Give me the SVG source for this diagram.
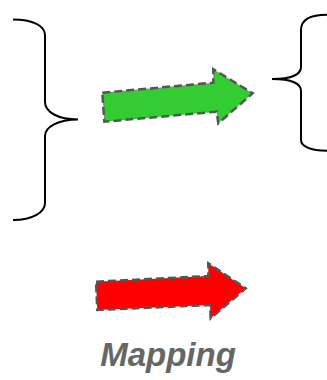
<svg xmlns="http://www.w3.org/2000/svg" width="327" height="380" viewBox="0 0 327 380">
<style>
.brace{fill:none;stroke:#000;stroke-width:2}
.arrow{stroke:#555;stroke-width:2.5;stroke-dasharray:8 4;stroke-linejoin:miter}
.label{font-family:"Liberation Sans",Arial,sans-serif;font-weight:bold;font-style:italic;font-size:33px;fill:#666}
</style>
<rect width="327" height="380" fill="#fff"/>
<g id="left-brace"><path class="brace" d="M13,19.5 C33,19.5 45,26 45,35 L45,102 C45,112 58,119.5 78,119.5 C58,119.5 45,127 45,136 L45,203 C45,212 33,220 13,220"/></g>
<g id="right-brace"><path class="brace" d="M327,14.7 C310,14.7 301,20 301,30 L301,67 C301,74 292,79 272,79 C292,79 301,84 301,91 L301,140 C301,146 310,150.7 327,150.7"/></g>
<g id="green-arrow"><polygon class="arrow" fill="#33cc33" points="102.3,92.7 213.3,82.7 213.3,69.3 252.7,93.3 218.3,123.3 216.7,111.7 104.3,121.7"/></g>
<g id="red-arrow"><polygon class="arrow" fill="#ff0000" points="96,281.7 208.3,276 208.3,263.3 245.7,288.3 210.7,318.3 210,305 97.3,310"/></g>
<g id="label"><text class="label" x="168" y="366" text-anchor="middle">Mapping</text></g>
</svg>
